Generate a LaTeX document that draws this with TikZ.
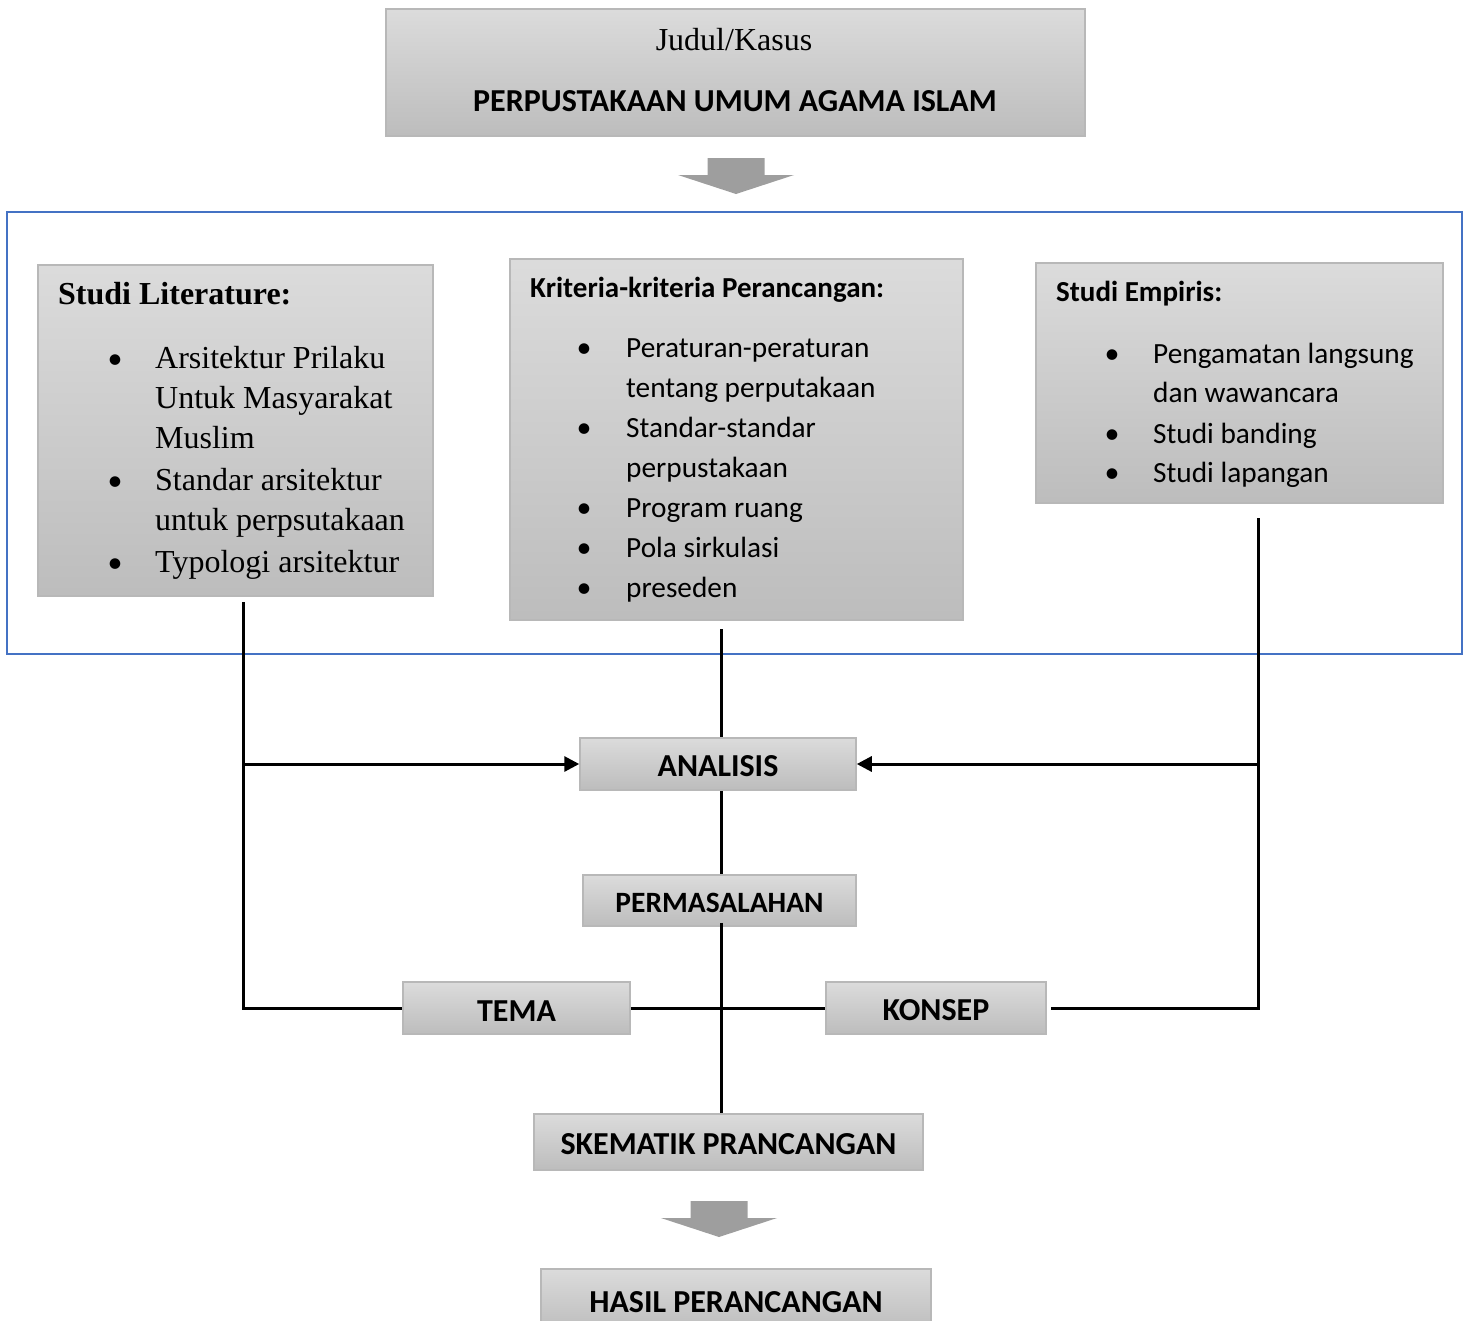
\documentclass[tikz,border=0pt]{standalone}
\usepackage{fontspec}
\setmainfont{Liberation Serif}
\newfontfamily\calibri{Carlito}
\usetikzlibrary{arrows.meta}
\definecolor{frameblue}{RGB}{68,114,196}
\tikzstyle{greybox} = [rectangle,
draw=black!28,
line width=1.5pt,
top color=black!14,
bottom color=black!26,
inner sep=0pt]
\tikzstyle{boxtitle} = [font=\calibri\bfseries\fontsize{32}{38}\selectfont,
text height=26pt]
\tikzstyle{groupframe} = [rectangle,
draw=frameblue,
line width=2pt]
\tikzstyle{link} = [line width=3pt]
\tikzstyle{arrow} = [line width=3pt,
-{Triangle[length=15pt,width=15pt]}]
\tikzstyle{bigarrow} = [fill=black!38]
\newcommand{\bul}[1]{\llap{\makebox[#1][l]{\makebox[0pt]{\calibri\fontsize{30}{30}\selectfont\textbullet}}}}
\newcommand{\downblock}[1]{\fill[bigarrow, shift={(#1)}] (-28.5,-36) -- (28.5,-36) -- (28.5,-19) -- (58,-19) -- (0,0) -- (-58,-19) -- (-28.5,-19) -- cycle;}

\begin{document}
\begin{tikzpicture}[x=1pt, y=-1pt]
\clip (0,0) rectangle (1464,1320);

% judul
\node (top) [greybox, minimum width=699pt, minimum height=127pt] at (735.5,72.5) {};
\node (judul) [anchor=base, inner sep=0pt, font=\fontsize{32}{38}\selectfont] at (734,50) {Judul/Kasus};
\node (kasus) [anchor=base, inner sep=0pt, font=\calibri\bfseries\fontsize{32}{38}\selectfont] at (735,111) {PERPUSTAKAAN UMUM AGAMA ISLAM};
\coordinate (tip1) at (736,194);
\downblock{tip1}

% kelompok studi
\node (grp) [groupframe, minimum width=1455pt, minimum height=442pt] at (734.5,433) {};

\node (lit) [greybox, minimum width=395pt, minimum height=331pt] at (235.5,430.5) {};
\node (littitle) [anchor=base west, inner sep=0pt, font=\bfseries\fontsize{32}{40}\selectfont] at (58,304) {Studi Literature:};
\node (litlist) [anchor=base west, inner sep=0pt, font=\fontsize{32}{40}\selectfont] at (155,368) {\begin{tabular}[t]{@{}l@{}}
\bul{40pt}Arsitektur Prilaku\\ Untuk Masyarakat\\ Muslim\\[2pt]
\bul{40pt}Standar arsitektur\\ untuk perpsutakaan\\[2pt]
\bul{40pt}Typologi arsitektur
\end{tabular}};

\node (krit) [greybox, minimum width=453pt, minimum height=361pt] at (736.5,439.5) {};
\node (krittitle) [anchor=base west, inner sep=0pt, font=\calibri\bfseries\fontsize{29}{40}\selectfont] at (530,297) {Kriteria-kriteria Perancangan:};
\node (kritlist) [anchor=base west, inner sep=0pt, font=\calibri\fontsize{29.3}{40}\selectfont] at (626,357) {\begin{tabular}[t]{@{}l@{}}
\bul{42pt}Peraturan-peraturan\\ tentang perputakaan\\
\bul{42pt}Standar-standar\\ perpustakaan\\
\bul{42pt}Program ruang\\
\bul{42pt}Pola sirkulasi\\
\bul{42pt}preseden
\end{tabular}};

\node (emp) [greybox, minimum width=407pt, minimum height=240pt] at (1239.5,383) {};
\node (emptitle) [anchor=base west, inner sep=0pt, font=\calibri\bfseries\fontsize{29}{40}\selectfont] at (1056,301) {Studi Empiris:};
\node (emplist) [anchor=base west, inner sep=0pt, font=\calibri\fontsize{29.3}{39.5}\selectfont] at (1153,363) {\begin{tabular}[t]{@{}l@{}}
\bul{41pt}Pengamatan langsung\\ dan wawancara\\[1pt]
\bul{41pt}Studi banding\\
\bul{41pt}Studi lapangan
\end{tabular}};

% alur
\node (analisis) [greybox, boxtitle, minimum width=276pt, minimum height=52pt] at (718,764) {ANALISIS};
\node (perm) [greybox, boxtitle, font=\calibri\bfseries\fontsize{29.5}{36}\selectfont, text height=24pt, minimum width=273pt, minimum height=51pt] at (719.5,900.5) {PERMASALAHAN};
\node (tema) [greybox, boxtitle, minimum width=227pt, minimum height=52pt] at (516.5,1008) {TEMA};
\node (konsep) [greybox, boxtitle, minimum width=220pt, minimum height=52pt] at (936,1008) {KONSEP};
\node (skem) [greybox, boxtitle, minimum width=389pt, minimum height=56pt] at (728.5,1142) {SKEMATIK PRANCANGAN};
\node (hasil) [greybox, boxtitle, minimum width=390pt, minimum height=62pt] at (736,1300) {HASIL PERANCANGAN};
\coordinate (tip2) at (719,1237);
\downblock{tip2}

\coordinate (ltop) at (243,602);
\coordinate (lmid) at (243,764);
\coordinate (ktop) at (721,629);
\coordinate (rtop) at (1258,518);
\coordinate (rmid) at (1258,764);

\draw [link] (ltop) -- (ltop |- tema.west) -- (tema.west);
\draw [arrow] (lmid) -- (analisis.west);
\draw [link] (rtop) -- (rtop |- konsep.east) -- ([xshift=4pt]konsep.east);
\draw [arrow] (rmid) -- (analisis.east);
\draw [link] (ktop) -- (ktop |- analisis.north);
\draw [link] (ktop |- analisis.south) -- (ktop |- perm.north);
\draw [link] ([yshift=4pt]ktop |- perm.south) -- (ktop |- skem.north);
\draw [link] (tema.east) -- (konsep.west);

\end{tikzpicture}
\end{document}
